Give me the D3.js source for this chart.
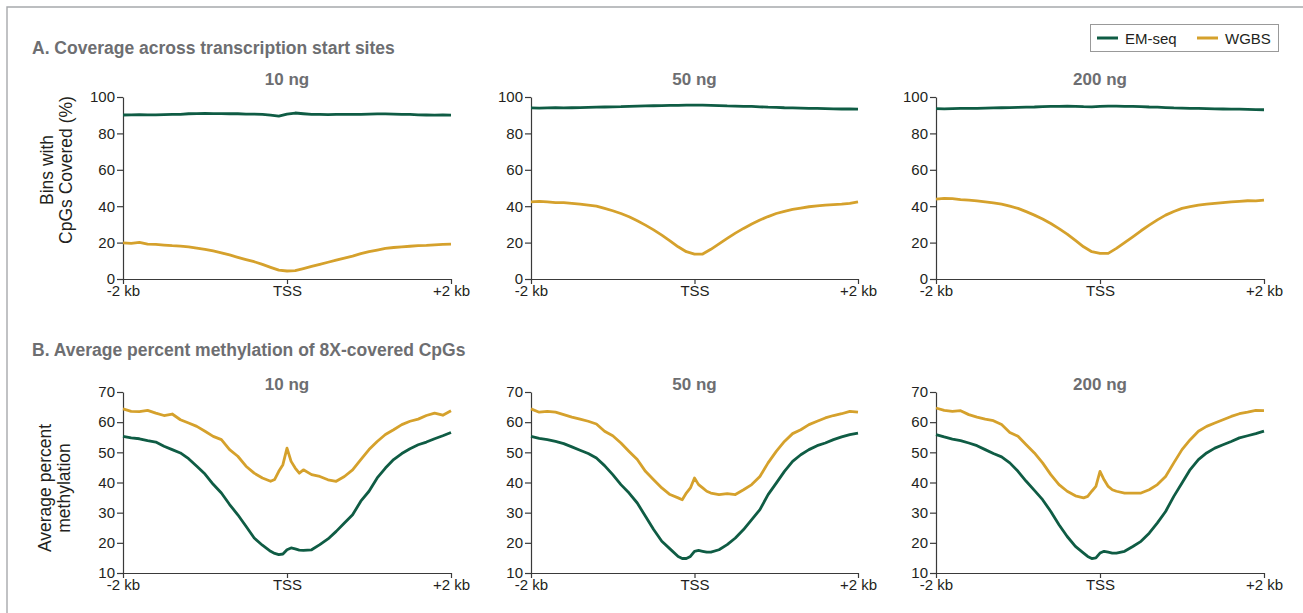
<!DOCTYPE html>
<html>
<head>
<meta charset="utf-8">
<script src="https://cdn.jsdelivr.net/npm/d3@7"></script>
<style>
  body { margin: 0; background: #fff; }
  svg { display: block; }
  text { font-family: "Liberation Sans", Arial, Helvetica, sans-serif; }
</style>
</head>
<body>
<svg id="chart" width="1303" height="613"></svg>
<script>
// ---- data -------------------------------------------------------------
const doses = ["10 ng", "50 ng", "200 ng"];
const seriesNames = ["EM-seq", "WGBS"];
const xTickValues = [-2000, 0, 2000];
const xTickLabels = ["-2 kb", "TSS", "+2 kb"];
const covTicks = [0, 20, 40, 60, 80, 100];
const methTicks = [10, 20, 30, 40, 50, 60, 70];

// distance from TSS (bp) for the coverage profiles
const posCov = [-2000,-1900,-1800,-1700,-1600,-1500,-1400,-1300,-1200,-1100,-1000,
  -900,-800,-700,-600,-500,-400,-300,-200,-100,0,100,200,300,400,500,600,700,800,900,
  1000,1100,1200,1300,1400,1500,1600,1700,1800,1900,2000];

// distance from TSS (bp) for the methylation profiles
const posMeth = [-2000,-1900,-1800,-1700,-1600,-1500,-1400,-1300,-1200,-1100,-1000,
  -900,-800,-700,-600,-500,-400,-300,-200,-150,-100,-50,0,50,100,150,200,300,400,500,
  600,700,800,900,1000,1100,1200,1300,1400,1500,1600,1700,1800,1900,2000];

// Bins with CpGs covered (%)
const covEM10 = [90.1,90.2,90.3,90.2,90.2,90.3,90.4,90.5,90.8,90.9,91.0,90.9,90.9,90.8,90.8,
  90.6,90.6,90.4,90.0,89.5,90.6,91.2,90.8,90.5,90.4,90.3,90.4,90.5,90.4,90.4,90.6,90.7,90.7,
  90.6,90.5,90.4,90.2,90.1,90.0,90.1,90.0];
const covWG10 = [19.9,19.6,20.1,19.2,19.0,18.6,18.3,18.1,17.7,17.0,16.3,15.4,14.4,13.2,11.9,
  10.7,9.5,8.0,6.4,4.9,4.4,4.6,5.7,6.9,8.0,9.2,10.4,11.5,12.6,13.9,15.0,15.9,16.8,17.3,17.7,
  18.0,18.3,18.5,18.8,19.0,19.2];
const covEM50 = [94.0,93.9,94.0,94.1,94.0,94.1,94.2,94.3,94.4,94.5,94.6,94.7,94.9,95.0,95.1,
  95.2,95.3,95.4,95.4,95.5,95.5,95.5,95.4,95.3,95.1,95.0,94.9,94.8,94.6,94.4,94.3,94.1,94.0,
  93.9,93.8,93.7,93.6,93.5,93.4,93.4,93.3];
const covWG50 = [42.4,42.6,42.4,42.0,42.0,41.6,41.1,40.6,40.0,38.8,37.5,36.0,34.2,32.0,29.6,
  27.0,24.1,21.0,17.7,15.0,13.7,13.7,16.3,19.3,22.3,25.2,27.8,30.2,32.4,34.3,36.0,37.2,38.2,
  39.0,39.7,40.2,40.6,40.9,41.1,41.5,42.4];
const covEM200 = [93.6,93.5,93.6,93.7,93.7,93.8,93.9,94.0,94.1,94.2,94.3,94.4,94.5,94.7,94.8,
  94.9,95.0,94.9,94.7,94.6,94.8,95.0,95.0,94.9,94.8,94.7,94.5,94.4,94.2,94.0,93.9,93.8,93.7,
  93.6,93.5,93.4,93.3,93.3,93.2,93.1,93.0];
const covWG200 = [43.9,44.3,44.2,43.6,43.3,42.9,42.4,41.8,41.1,40.0,38.8,37.0,35.1,33.0,30.5,
  27.7,24.7,21.2,17.7,15.0,14.1,14.1,16.8,20.0,23.2,26.5,29.6,32.5,35.1,37.1,38.8,39.8,40.6,
  41.1,41.5,42.0,42.4,42.7,43.0,42.9,43.3];

// Average percent methylation of 8X-covered CpGs
const methEM10 = [55.3,54.8,54.5,53.9,53.4,52.0,50.9,49.8,47.9,45.4,42.8,39.4,36.5,32.7,29.3,
  25.5,21.6,19.2,17.2,16.5,16.1,16.3,17.7,18.3,18.0,17.6,17.5,17.7,19.4,21.3,23.8,26.6,29.3,
  33.8,37.1,41.5,44.8,47.6,49.6,51.2,52.5,53.4,54.5,55.5,56.6];
const methWG10 = [64.4,63.6,63.5,63.9,63.0,62.2,62.7,60.8,59.7,58.6,57.0,55.3,54.2,50.9,48.7,
  45.4,43.1,41.5,40.4,41.0,43.7,45.9,51.4,47.0,44.8,43.1,44.2,42.6,42.0,40.9,40.4,42.0,44.2,
  47.6,50.9,53.6,55.9,57.5,59.2,60.3,61.0,62.2,63.0,62.3,63.8];
const methEM50 = [55.3,54.6,54.2,53.6,52.9,51.8,50.7,49.6,48.1,45.6,42.6,39.3,36.5,33.2,28.8,
  24.4,20.5,18.0,15.5,14.8,14.8,15.5,17.2,17.5,17.2,16.9,16.9,17.7,19.4,21.6,24.4,27.7,31.0,
  36.0,39.8,43.7,47.0,49.2,50.9,52.2,53.1,54.2,55.1,55.9,56.4];
const methWG50 = [64.4,63.3,63.6,63.3,62.5,61.7,61.0,60.3,59.4,57.0,55.5,53.1,50.3,47.6,43.7,
  40.9,38.2,36.0,34.9,34.3,36.5,38.2,41.5,39.3,38.2,37.1,36.5,36.0,36.3,36.0,37.6,39.3,42.0,
  46.5,50.3,53.6,56.2,57.5,59.2,60.3,61.4,62.2,62.8,63.6,63.3];
const methEM200 = [55.9,55.1,54.4,53.9,53.1,52.2,50.9,49.6,48.5,46.5,43.7,40.4,37.4,34.3,30.4,
  26.0,22.1,18.8,16.6,15.5,14.8,15.0,16.6,17.2,16.9,16.6,16.6,17.2,18.8,20.5,23.2,26.6,30.4,
  35.4,39.8,44.3,47.6,49.8,51.4,52.5,53.6,54.8,55.5,56.2,57.0];
const methWG200 = [64.7,63.9,63.6,63.8,62.5,61.7,61.0,60.5,59.2,56.6,55.3,52.5,49.8,46.5,42.6,
  39.3,37.1,35.6,34.9,35.4,37.1,38.7,43.7,40.9,38.7,37.6,37.1,36.5,36.5,36.5,37.6,39.3,42.0,
  46.5,50.9,54.2,57.0,58.6,59.7,60.8,61.9,62.8,63.3,63.9,63.8];

// ---- drawing ------------------------------------------------------------
const colors = { "EM-seq": "#0f5c44", "WGBS": "#d5a12c" };
const svg = d3.select("#chart");
const INK = "#231f20", GREY_TITLE = "#6d6e71";

// open frame (top and left edges)
svg.append("path")
  .attr("d", "M7,613 L7,7 L1303,7")
  .attr("fill", "none").attr("stroke", "#a7a9ac").attr("stroke-width", 1.4);

const columns = [
  { x0: 123, x1: 451 },
  { x0: 531, x1: 858 },
  { x0: 936, x1: 1264 }
];

const rows = [
  {
    title: "A. Coverage across transcription start sites", titleY: 54, subY: 85,
    y0: 279, y1: 97, domain: [0, 100], ticks: covTicks, pos: posCov,
    label: ["Bins with", "CpGs Covered (%)"], labelY: 170, labelX: [53, 72],
    data: [[covEM10, covWG10], [covEM50, covWG50], [covEM200, covWG200]]
  },
  {
    title: "B. Average percent methylation of 8X-covered CpGs", titleY: 356, subY: 390,
    y0: 573, y1: 392, domain: [10, 70], ticks: methTicks, pos: posMeth,
    label: ["Average percent", "methylation"], labelY: 488, labelX: [51, 70],
    data: [[methEM10, methWG10], [methEM50, methWG50], [methEM200, methWG200]]
  }
];

rows.forEach(row => {
  svg.append("text")
    .attr("x", 32).attr("y", row.titleY)
    .attr("font-size", 17.5).attr("font-weight", "bold")
    .attr("fill", GREY_TITLE).text(row.title);

  // shared y-axis title on the first column
  const lab = svg.append("text")
    .attr("transform", `translate(0,${row.labelY}) rotate(-90)`)
    .attr("text-anchor", "middle").attr("font-size", 17.5).attr("fill", INK);
  lab.append("tspan").attr("x", 0).attr("y", row.labelX[0]).text(row.label[0]);
  lab.append("tspan").attr("x", 0).attr("y", row.labelX[1]).text(row.label[1]);

  columns.forEach((col, ci) => {
    const x = d3.scaleLinear().domain([-2000, 2000]).range([col.x0, col.x1]);
    const y = d3.scaleLinear().domain(row.domain).range([row.y0, row.y1]);
    const g = svg.append("g");

    g.append("text")
      .attr("x", (col.x0 + col.x1) / 2).attr("y", row.subY)
      .attr("text-anchor", "middle").attr("font-size", 17).attr("font-weight", "bold")
      .attr("fill", GREY_TITLE).text(doses[ci]);

    const yAxis = g.append("g")
      .attr("transform", `translate(${col.x0},0)`)
      .call(d3.axisLeft(y).tickValues(row.ticks).tickSize(6).tickPadding(2).tickSizeOuter(0));
    const xAxis = g.append("g")
      .attr("transform", `translate(0,${row.y0})`)
      .call(d3.axisBottom(x).tickValues(xTickValues).tickSize(5).tickPadding(1)
        .tickFormat((d, i) => xTickLabels[i]).tickSizeOuter(0));

    [yAxis, xAxis].forEach(a => {
      a.select(".domain").attr("stroke", "#3a3a3a").attr("stroke-width", 1.2);
      a.selectAll(".tick line").attr("stroke", "#3a3a3a").attr("stroke-width", 1.2);
      a.selectAll(".tick text").attr("font-size", 15).attr("fill", INK)
        .attr("font-family", '"Liberation Sans", Arial, sans-serif');
    });

    const line = d3.line().x((d, i) => x(row.pos[i])).y(d => y(d));
    row.data[ci].forEach((vals, si) => {
      g.append("path")
        .datum(vals)
        .attr("fill", "none")
        .attr("stroke", colors[seriesNames[si]])
        .attr("stroke-width", 2.8)
        .attr("stroke-linejoin", "round")
        .attr("d", line);
    });
  });
});

// legend
const legend = svg.append("g");
legend.append("rect")
  .attr("x", 1090.5).attr("y", 24.5).attr("width", 188).attr("height", 27)
  .attr("fill", "#fff").attr("stroke", "#999").attr("stroke-width", 1);
const legX = [1097, 1197];
seriesNames.forEach((name, i) => {
  legend.append("line")
    .attr("x1", legX[i]).attr("x2", legX[i] + 21)
    .attr("y1", 38).attr("y2", 38)
    .attr("stroke", colors[name]).attr("stroke-width", 3);
  legend.append("text")
    .attr("x", legX[i] + 28).attr("y", 43.5)
    .attr("font-size", 15).attr("fill", INK).text(name);
});
</script>
</body>
</html>
